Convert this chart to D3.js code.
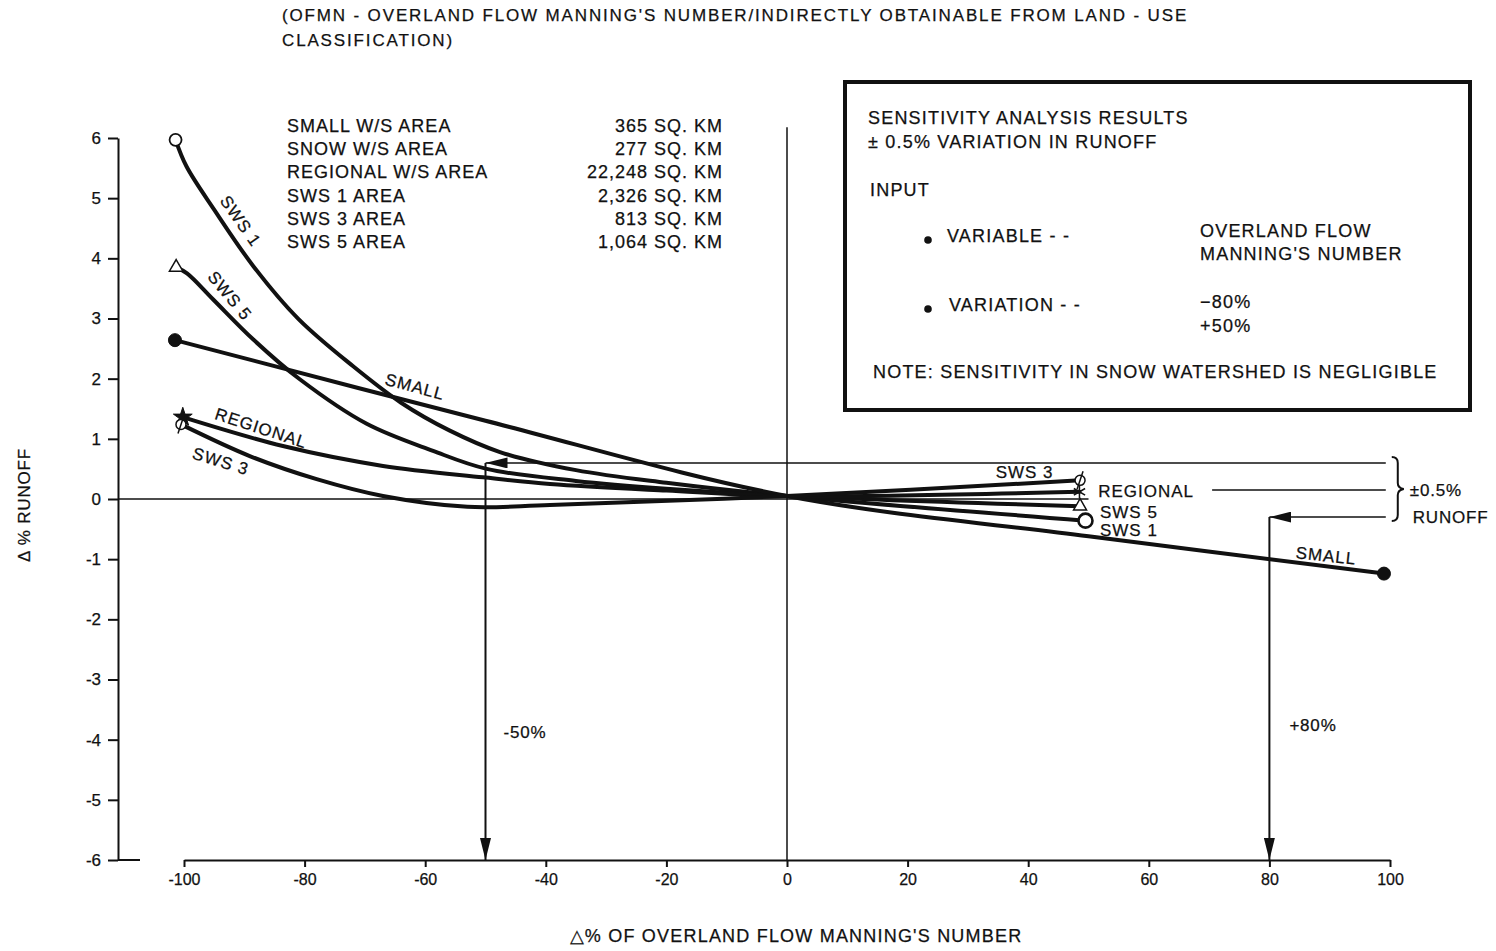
<!DOCTYPE html>
<html>
<head>
<meta charset="utf-8">
<script src="https://cdn.jsdelivr.net/npm/d3@7"></script>
<style>
  html, body { margin: 0; padding: 0; background: #fff; }
  svg text { font-family: "Liberation Sans", Arial, sans-serif; fill: #111; stroke: #111; stroke-width: 0.25px; }
</style>
</head>
<body>
<div id="chart"></div>
<script>
const xTicks = [-100, -80, -60, -40, -20, 0, 20, 40, 60, 80, 100];
const yTicks = [-6, -5, -4, -3, -2, -1, 0, 1, 2, 3, 4, 5, 6];

// Δ% of overland flow Manning's number vs Δ% runoff
const sws1X = [-101.4, -99.6, -95, -88.5, -81, -72, -64, -56, -47.6, -35, -20, 0, 49.5];
const sws1Y = [5.97, 5.53, 4.81, 3.87, 2.99, 2.21, 1.6, 1.14, 0.78, 0.48, 0.27, 0.05, -0.36];
const sws5X = [-101.3, -99.5, -95.2, -88.5, -80.8, -69.7, -58.7, -49.8, -35, -20, 0, 48.6];
const sws5Y = [3.85, 3.75, 3.32, 2.65, 1.99, 1.25, 0.8, 0.5, 0.3, 0.17, 0.05, -0.12];
const smallX = [-101.5, -50, 0, 50, 99];
const smallY = [2.64, 1.3, 0.05, -0.62, -1.24];
const regionalX = [-100.2, -83.6, -67, -50.4, -39.3, -20, 0, 48.5];
const regionalY = [1.36, 0.88, 0.55, 0.36, 0.25, 0.14, 0.05, 0.12];
const sws3X = [-100.5, -89, -78, -67, -53, -39.3, 0, 48.6];
const sws3Y = [1.24, 0.71, 0.33, 0.05, -0.13, -0.1, 0.05, 0.31];

// ±0.5% runoff band and the two read-off arrows
const bandTop = 0.6;
const bandMid = 0.15;
const bandBottom = -0.3;
const bandEnd = 99.3;
const arrowMinus = -50;
const arrowPlus = 80;

const areaNames = ["SMALL W/S AREA", "SNOW W/S AREA", "REGIONAL W/S AREA", "SWS 1 AREA", "SWS 3 AREA", "SWS 5 AREA"];
const areaValues = ["365 SQ. KM", "277 SQ. KM", "22,248 SQ. KM", "2,326 SQ. KM", "813 SQ. KM", "1,064 SQ. KM"];

const width = 1496;
const height = 951;

const svg = d3.select("#chart")
  .append("svg")
  .attr("width", width)
  .attr("height", height)
  .attr("viewBox", [0, 0, width, height]);

const x = d3.scaleLinear().domain([-100, 100]).range([184, 1390]);
const y = d3.scaleLinear().domain([-6, 6]).range([860, 138]);
const yAxisX = 118;
const hyphen = (d) => String(d);

// title
const title = svg.append("g").style("font-size", "17px").style("letter-spacing", "1.85px");
title.append("text").attr("x", 282).attr("y", 21)
  .text("(OFMN - OVERLAND FLOW MANNING'S NUMBER/INDIRECTLY OBTAINABLE FROM LAND - USE");
title.append("text").attr("x", 282).attr("y", 46)
  .text("CLASSIFICATION)");

// y axis
svg.append("g")
  .attr("transform", `translate(${yAxisX},0)`)
  .call(d3.axisLeft(y).tickValues(yTicks).tickSize(10).tickSizeOuter(0).tickPadding(7).tickFormat(hyphen))
  .call((g) => g.selectAll("path, line").attr("stroke", "#111").attr("stroke-width", 2))
  .call((g) => g.selectAll("text").style("font-size", "17px").style("font-family", "Liberation Sans, Arial, sans-serif").attr("fill", "#111"));

svg.append("line")
  .attr("x1", yAxisX).attr("x2", yAxisX + 22)
  .attr("y1", y(-6)).attr("y2", y(-6))
  .attr("stroke", "#111").attr("stroke-width", 2);

// x axis
svg.append("g")
  .attr("transform", `translate(0,${y(-6)})`)
  .call(d3.axisBottom(x).tickValues(xTicks).tickSize(7).tickSizeOuter(0).tickPadding(7).tickFormat(hyphen))
  .call((g) => g.selectAll("path, line").attr("stroke", "#111").attr("stroke-width", 2))
  .call((g) => g.selectAll("text").style("font-size", "16px").style("font-family", "Liberation Sans, Arial, sans-serif").attr("fill", "#111"));

// zero lines
svg.append("line")
  .attr("x1", yAxisX).attr("x2", x(50))
  .attr("y1", y(0)).attr("y2", y(0))
  .attr("stroke", "#111").attr("stroke-width", 1.5);
svg.append("line")
  .attr("x1", x(0)).attr("x2", x(0))
  .attr("y1", y(6.18)).attr("y2", y(-6))
  .attr("stroke", "#111").attr("stroke-width", 1.5);

// axis titles
svg.append("text")
  .attr("transform", `translate(30,${y(-0.1)}) rotate(-90)`)
  .attr("text-anchor", "middle")
  .style("font-size", "17px")
  .style("letter-spacing", "0.8px")
  .text("Δ % RUNOFF");
svg.append("text")
  .attr("x", 796).attr("y", 942)
  .attr("text-anchor", "middle")
  .style("font-size", "18px")
  .style("letter-spacing", "1.2px")
  .text("△% OF OVERLAND FLOW MANNING'S NUMBER");

// arrowheads
const defs = svg.append("defs");
defs.append("marker")
  .attr("id", "headLong")
  .attr("viewBox", "0 0 20 10")
  .attr("refX", 20).attr("refY", 5)
  .attr("markerWidth", 22).attr("markerHeight", 11)
  .attr("markerUnits", "userSpaceOnUse")
  .attr("orient", "auto")
  .append("path")
  .attr("d", "M0,0L20,5L0,10Z")
  .attr("fill", "#111");

const ref = svg.append("g").attr("stroke", "#111").attr("stroke-width", 1.5).attr("fill", "none");

ref.append("line")
  .attr("x1", x(bandEnd)).attr("x2", x(arrowMinus))
  .attr("y1", y(bandTop)).attr("y2", y(bandTop))
  .attr("marker-end", "url(#headLong)");
ref.append("line")
  .attr("x1", x(arrowMinus)).attr("x2", x(arrowMinus))
  .attr("y1", y(bandTop)).attr("y2", y(-6))
  .attr("stroke-width", 2)
  .attr("marker-end", "url(#headLong)");
ref.append("line")
  .attr("x1", x(70.5)).attr("x2", x(bandEnd))
  .attr("y1", y(bandMid)).attr("y2", y(bandMid));
ref.append("line")
  .attr("x1", x(bandEnd)).attr("x2", x(arrowPlus))
  .attr("y1", y(bandBottom)).attr("y2", y(bandBottom))
  .attr("marker-end", "url(#headLong)");
ref.append("line")
  .attr("x1", x(arrowPlus)).attr("x2", x(arrowPlus))
  .attr("y1", y(bandBottom)).attr("y2", y(-6))
  .attr("stroke-width", 2)
  .attr("marker-end", "url(#headLong)");

// brace
const bx = x(bandEnd) + 6;
const bTop = y(bandTop) - 6;
const bBot = y(bandBottom) + 4;
const bMid = (bTop + bBot) / 2;
ref.append("path")
  .attr("stroke-width", 2)
  .attr("d", `M${bx},${bTop} q6,0 6,6 V${bMid - 6} q0,5 6,6 q-6,1 -6,6 V${bBot - 6} q0,6 -6,6`);

const notes = svg.append("g").style("font-size", "17px").style("letter-spacing", "0.8px");
notes.append("text").attr("x", bx + 18).attr("y", y(bandMid) + 6).text("±0.5%");
notes.append("text").attr("x", bx + 21).attr("y", y(bandBottom) + 6).text("RUNOFF");
notes.append("text").attr("x", x(arrowMinus) + 18).attr("y", y(-3.98)).text("-50%");
notes.append("text").attr("x", x(arrowPlus) + 20).attr("y", y(-3.85)).text("+80%");

// data curves
const series = [
  { id: "sws1", xs: sws1X, ys: sws1Y },
  { id: "sws5", xs: sws5X, ys: sws5Y },
  { id: "small", xs: smallX, ys: smallY },
  { id: "regional", xs: regionalX, ys: regionalY },
  { id: "sws3", xs: sws3X, ys: sws3Y },
];

const line = d3.line()
  .x((d) => x(d[0]))
  .y((d) => y(d[1]))
  .curve(d3.curveCatmullRom.alpha(0.5));

series.forEach((s) => {
  svg.append("path")
    .datum(s.xs.map((v, i) => [v, s.ys[i]]))
    .attr("fill", "none")
    .attr("stroke", "#111")
    .attr("stroke-width", 4)
    .attr("stroke-linejoin", "round")
    .attr("stroke-linecap", "round")
    .attr("d", line);
});

// end markers
const marks = svg.append("g").attr("stroke", "#111");
const first = (xs, ys) => [x(xs[0]), y(ys[0])];
const last = (xs, ys) => [x(xs[xs.length - 1]), y(ys[ys.length - 1])];

let [px, py] = first(sws1X, sws1Y);
marks.append("circle").attr("cx", px).attr("cy", py).attr("r", 6).attr("fill", "#fff").attr("stroke-width", 1.8);
[px, py] = last(sws1X, sws1Y);
marks.append("circle").attr("cx", px).attr("cy", py).attr("r", 7).attr("fill", "#fff").attr("stroke-width", 2.6);

[px, py] = first(sws5X, sws5Y);
marks.append("path").attr("transform", `translate(${px},${py})`)
  .attr("d", d3.symbol(d3.symbolTriangle2, 130)()).attr("fill", "#fff").attr("stroke-width", 1.5);
[px, py] = last(sws5X, sws5Y);
marks.append("path").attr("transform", `translate(${px},${py})`)
  .attr("d", d3.symbol(d3.symbolTriangle2, 120)()).attr("fill", "#fff").attr("stroke-width", 1.5);

[px, py] = first(smallX, smallY);
marks.append("circle").attr("cx", px).attr("cy", py).attr("r", 6.5).attr("fill", "#111");
[px, py] = last(smallX, smallY);
marks.append("circle").attr("cx", px).attr("cy", py).attr("r", 6.5).attr("fill", "#111");

[px, py] = first(regionalX, regionalY);
marks.append("path").attr("transform", `translate(${px},${py})`)
  .attr("d", d3.symbol(d3.symbolStar, 110)()).attr("fill", "#111");
[px, py] = last(regionalX, regionalY);
marks.append("path").attr("transform", `translate(${px},${py})`)
  .attr("d", d3.symbol(d3.symbolAsterisk, 120)()).attr("fill", "none").attr("stroke-width", 1.5);

[[sws3X, sws3Y, first], [sws3X, sws3Y, last]].forEach(([xs, ys, pick]) => {
  const [cx, cy] = pick(xs, ys);
  marks.append("circle").attr("cx", cx).attr("cy", cy).attr("r", 5).attr("fill", "#fff").attr("stroke-width", 1.5);
  marks.append("line").attr("x1", cx - 3).attr("x2", cx + 3).attr("y1", cy + 9).attr("y2", cy - 9).attr("stroke-width", 1.5);
});

// curve labels
const curveLabel = (text, xv, yv, angle, anchor = "middle") => {
  svg.append("text")
    .attr("transform", `translate(${x(xv)},${y(yv)}) rotate(${angle})`)
    .attr("text-anchor", anchor)
    .attr("dy", "0.35em")
    .style("font-size", "17px")
    .style("letter-spacing", "1px")
    .text(text);
};
curveLabel("SWS 1", -90.6, 4.62, 55);
curveLabel("SWS 5", -92.4, 3.38, 50);
curveLabel("SMALL", -61.7, 1.87, 15);
curveLabel("REGIONAL", -87.2, 1.18, 18);
curveLabel("SWS 3", -93.9, 0.63, 17);
curveLabel("SMALL", 89.4, -0.94, 6);
curveLabel("SWS 3", 34.6, 0.45, 0, "start");
curveLabel("REGIONAL", 51.6, 0.14, 0, "start");
curveLabel("SWS 5", 51.9, -0.21, 0, "start");
curveLabel("SWS 1", 51.9, -0.51, 0, "start");

// area table
const table = svg.append("g").style("font-size", "18px").style("letter-spacing", "1px");
areaNames.forEach((name, i) => {
  table.append("text").attr("x", 287).attr("y", 132 + i * 23.2).text(name);
  table.append("text").attr("x", 723).attr("y", 132 + i * 23.2).attr("text-anchor", "end").text(areaValues[i]);
});

// legend box
const legend = svg.append("g").style("font-size", "18px").style("letter-spacing", "1.2px");
legend.append("rect")
  .attr("x", 845).attr("y", 82).attr("width", 625).attr("height", 328)
  .attr("fill", "none").attr("stroke", "#111").attr("stroke-width", 4);
legend.append("text").attr("x", 868).attr("y", 124).text("SENSITIVITY ANALYSIS RESULTS");
legend.append("text").attr("x", 868).attr("y", 148).text("± 0.5% VARIATION IN RUNOFF");
legend.append("text").attr("x", 870).attr("y", 196).text("INPUT");
legend.append("circle").attr("cx", 928).attr("cy", 240).attr("r", 3.8).attr("fill", "#111");
legend.append("text").attr("x", 947).attr("y", 242).text("VARIABLE - -");
legend.append("text").attr("x", 1200).attr("y", 237).text("OVERLAND FLOW");
legend.append("text").attr("x", 1200).attr("y", 260).text("MANNING'S NUMBER");
legend.append("circle").attr("cx", 928).attr("cy", 309).attr("r", 3.8).attr("fill", "#111");
legend.append("text").attr("x", 949).attr("y", 311).text("VARIATION - -");
legend.append("text").attr("x", 1200).attr("y", 308).text("−80%");
legend.append("text").attr("x", 1200).attr("y", 332).text("+50%");
legend.append("text").attr("x", 873).attr("y", 378).text("NOTE:  SENSITIVITY IN SNOW WATERSHED IS NEGLIGIBLE");
</script>
</body>
</html>
